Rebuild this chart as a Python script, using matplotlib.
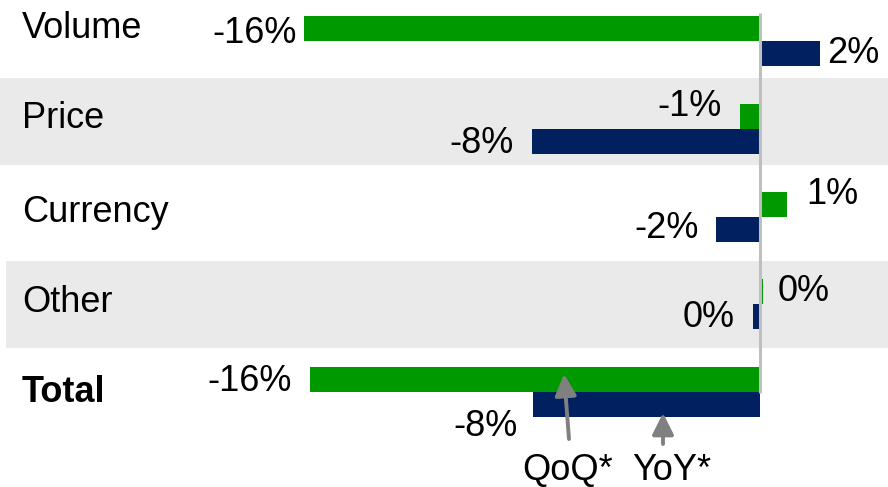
import matplotlib.pyplot as plt

plt.rcParams["font.family"] = ["Liberation Sans", "DejaVu Sans"]

# Contribution to sales change, in percent
categories = ["Volume", "Price", "Currency", "Other", "Total"]
qoq = [-16.0, -0.7, 0.95, 0.1, -15.8]
yoy = [2.1, -8.0, -1.55, -0.25, -7.95]

GREEN = "#009900"
NAVY = "#002060"
BAND = "#EAEAEA"
AXIS_GREY = "#BFBFBF"
ARROW_GREY = "#808080"

W, H = 888, 487
PX_PER_PCT = 28.5
ZERO_PX = 760
ROW_PX = 87.75
FIRST_ROW_PX = 41
BAR_H = 25 / ROW_PX
FS = 26

# category label shift from the row centre, in pixels
name_offsets = [-12, -10, -4, -2, 1]
# label offsets from the bar end, in pixels (dx, dy with y pointing down)
qoq_offsets = [(-7, 5), (-18, -10), (19, -10), (15, 0), (-18, 2)]
yoy_offsets = [(7, 0), (-18, 2), (-17, 0), (-18, 1), (-16, 22)]


def fmt(v):
    return f"{int(round(v))}%"


fig = plt.figure(figsize=(W / 100, H / 100), dpi=100)
ax = fig.add_axes([0, 0, 1, 1])
ax.set_xlim(-ZERO_PX / PX_PER_PCT, (W - ZERO_PX) / PX_PER_PCT)
ax.set_ylim((H - FIRST_ROW_PX) / ROW_PX, -FIRST_ROW_PX / ROW_PX)
ax.axis("off")

# shaded rows behind Price and Other
ax.axhspan(0.42, 1.41, color=BAND, zorder=0, lw=0)
ax.axhspan(2.51, 3.50, xmin=6 / W, color=BAND, zorder=0, lw=0)

ys = list(range(len(categories)))
ax.barh([y - BAR_H / 2 for y in ys], qoq, height=BAR_H, color=GREEN, zorder=2)
ax.barh([y + BAR_H / 2 for y in ys], yoy, height=BAR_H, color=NAVY, zorder=2)

# zero line
ax.plot([0, 0], [-0.32, 4.01], color=AXIS_GREY, lw=2.2, zorder=3, solid_capstyle="butt")

for y, name, off in zip(ys, categories, name_offsets):
    ax.text(-(ZERO_PX - 22) / PX_PER_PCT, y + off / ROW_PX, name, fontsize=FS,
            ha="left", va="center",
            fontweight="bold" if name == "Total" else "normal")


def value_labels(vals, offsets, dy_bar):
    for y, v, (dx, dy) in zip(ys, vals, offsets):
        ax.annotate(fmt(v), xy=(v, y + dy_bar), xytext=(dx * 0.72, -dy * 0.72),
                    textcoords="offset points", fontsize=FS, va="center",
                    ha="left" if v >= 0 else "right")


value_labels(qoq, qoq_offsets, -BAR_H / 2)
value_labels(yoy, yoy_offsets, BAR_H / 2)


def px(x, y):
    return (x - ZERO_PX) / PX_PER_PCT, (y - FIRST_ROW_PX) / ROW_PX


arrow = dict(arrowstyle="-|>,head_length=1.3,head_width=0.65", color=ARROW_GREY, lw=2.8,
             mutation_scale=10, shrinkA=0, shrinkB=0)
ax.annotate("", xy=px(564, 374), xytext=px(569, 439), arrowprops=arrow, zorder=4)
ax.annotate("", xy=px(663, 413), xytext=px(663, 444), arrowprops=arrow, zorder=4)
ax.text(*px(568, 470), "QoQ*", fontsize=FS, ha="center", va="center")
ax.text(*px(672, 470), "YoY*", fontsize=FS, ha="center", va="center")

fig.savefig("out.png", dpi=100)
